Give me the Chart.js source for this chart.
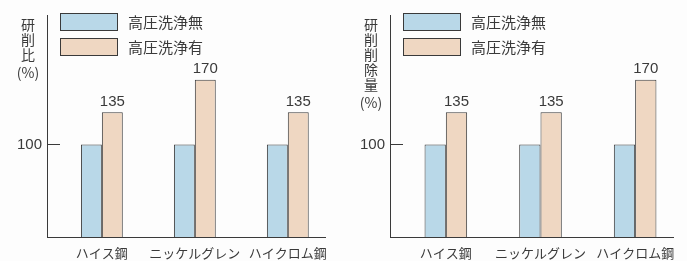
<!DOCTYPE html>
<html>
<head>
<meta charset="utf-8">
<script src="https://cdn.jsdelivr.net/npm/chart.js@4/dist/chart.umd.min.js"></script>
<style>
  html, body { margin: 0; padding: 0; background: #fdfdfd; }
  .wrap { position: absolute; top: 0; height: 261px; }
  #left { left: 0; width: 343px; }
  #right { left: 343px; width: 344px; }
</style>
</head>
<body>
<div class="wrap" id="left"><canvas id="chartLeft"></canvas></div>
<div class="wrap" id="right"><canvas id="chartRight"></canvas></div>
<script>
// Données
const categories = ['ハイス鋼', 'ニッケルグレン', 'ハイクロム鋼'];
const seriesNames = ['高圧洗浄無', '高圧洗浄有'];
const ratioNoWash = [100, 100, 100];
const ratioWash = [135, 170, 135];
const removalNoWash = [100, 100, 100];
const removalWash = [135, 135, 170];
const yTicks = [100];
const titleLeft = ['研', '削', '比', '(%)'];
const titleRight = ['研', '削', '削', '除', '量', '(%)'];

const FONT = '"Noto Sans CJK JP", "Noto Sans", sans-serif';
const NUMFONT = '"Liberation Sans", "DejaVu Sans", sans-serif';
const INK = '#3a3a3a';
const BLUE = '#b9d8e8';
const BEIGE = '#efd7c2';

// Titre vertical, légende, petits traits intérieurs et valeurs
const decorPlugin = {
  id: 'decor',
  afterDraw(chart) {
    const ctx = chart.ctx;
    const area = chart.chartArea;
    const yScale = chart.scales.y;
    ctx.save();
    ctx.strokeStyle = INK;
    ctx.fillStyle = INK;
    ctx.lineWidth = 1;

    // traits de graduation vers l'intérieur
    yScale.ticks.forEach(t => {
      const py = Math.round(yScale.getPixelForValue(t.value)) + 0.5;
      ctx.beginPath();
      ctx.moveTo(area.left, py);
      ctx.lineTo(area.left + 13, py);
      ctx.stroke();
    });

    // titre de l'axe y, caractère par caractère
    const lines = chart.options.plugins.decor.title;
    ctx.font = '14px ' + FONT;
    ctx.textAlign = 'center';
    ctx.textBaseline = 'middle';
    lines.forEach((s, i) => {
      const extra = s === '(%)' ? 3 : 0;
      ctx.fillText(s, area.left - 19, 25 + i * 15 + extra);
    });

    // légende
    ctx.font = '15px ' + FONT;
    ctx.textAlign = 'left';
    chart.data.datasets.forEach((ds, i) => {
      const bx = area.left + 13;
      const by = 13 + i * 25;
      ctx.fillStyle = ds.backgroundColor;
      ctx.fillRect(bx, by, 57, 17);
      ctx.strokeRect(bx + 0.5, by + 0.5, 57, 17);
      ctx.fillStyle = INK;
      ctx.fillText(ds.label, bx + 68, by + 9);
    });

    // valeurs au-dessus des barres
    ctx.font = '15px ' + NUMFONT;
    ctx.textAlign = 'center';
    ctx.textBaseline = 'bottom';
    chart.data.datasets.forEach((ds, i) => {
      if (!ds.showValues) return;
      chart.getDatasetMeta(i).data.forEach((bar, j) => {
        ctx.fillText(String(ds.data[j].y), bar.x, bar.y - 3);
      });
    });
    ctx.restore();
  }
};

function makeChart(id, noWash, wash, title, rightPad) {
  const toPoints = arr => arr.map((v, i) => ({ x: i, y: v }));
  return new Chart(document.getElementById(id), {
    type: 'bar',
    data: {
      datasets: [
        {
          label: seriesNames[0],
          data: toPoints(noWash),
          backgroundColor: BLUE,
          borderColor: INK,
          borderWidth: 1
        },
        {
          label: seriesNames[1],
          data: toPoints(wash),
          backgroundColor: BEIGE,
          borderColor: INK,
          borderWidth: 1,
          showValues: true
        }
      ]
    },
    options: {
      responsive: true,
      maintainAspectRatio: false,
      animation: false,
      layout: { padding: { top: 15, right: rightPad, left: 0, bottom: 0 } },
      categoryPercentage: 0.45,
      barPercentage: 1,
      plugins: {
        legend: { display: false },
        tooltip: { enabled: false },
        decor: { title: title }
      },
      scales: {
        x: {
          type: 'linear',
          offset: false,
          bounds: 'data',
          min: -0.59,
          max: 2.4,
          grid: { display: false, drawTicks: false, offset: false },
          border: { display: true, color: INK, width: 1 },
          afterBuildTicks: scale => {
            scale.ticks = categories.map((c, i) => ({ value: i }));
          },
          afterFit: scale => { scale.height = 24; },
          ticks: {
            autoSkip: false,
            maxRotation: 0,
            padding: 8,
            color: INK,
            font: { family: FONT, size: 13 },
            callback: v => categories[v] || ''
          }
        },
        y: {
          min: 0,
          max: 240,
          grid: { display: false, drawTicks: false },
          border: { display: true, color: INK, width: 1 },
          afterBuildTicks: scale => {
            scale.ticks = yTicks.map(v => ({ value: v }));
          },
          afterFit: scale => { scale.width = 47; },
          ticks: {
            padding: 5,
            color: INK,
            font: { family: NUMFONT, size: 15 }
          }
        }
      }
    },
    plugins: [decorPlugin]
  });
}

makeChart('chartLeft', ratioNoWash, ratioWash, titleLeft, 18);
makeChart('chartRight', removalNoWash, removalWash, titleRight, 14);
</script>
</body>
</html>
